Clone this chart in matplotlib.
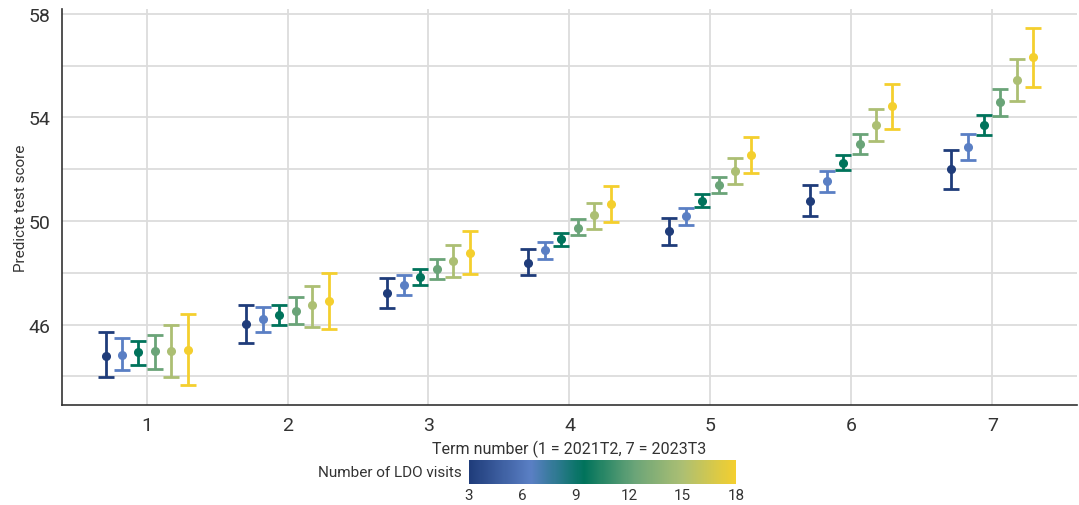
import matplotlib
matplotlib.use("Agg")
import matplotlib.pyplot as plt
import numpy as np
from matplotlib.colors import LinearSegmentedColormap, Normalize
from matplotlib import font_manager

names = {f.name for f in font_manager.fontManager.ttflist}
fam = [f for f in ["Liberation Sans Narrow", "Roboto", "DejaVu Sans"] if f in names]
plt.rcParams['font.family'] = fam

terms = [1, 2, 3, 4, 5, 6, 7]
visits = [3, 6, 9, 12, 15, 18]
colors = ["#1f3c7a", "#5a7fc4", "#00735b", "#6aa478", "#acbf73", "#f4cf2e"]

# estimates per visit level (rows) by term (cols)
est = [
    [44.80, 46.03, 47.23, 48.39, 49.60, 50.78, 52.01],
    [44.84, 46.21, 47.54, 48.87, 50.19, 51.53, 52.87],
    [44.94, 46.36, 47.84, 49.32, 50.78, 52.24, 53.72],
    [44.96, 46.54, 48.14, 49.74, 51.39, 52.96, 54.59],
    [44.99, 46.76, 48.47, 50.22, 51.94, 53.70, 55.45],
    [45.02, 46.89, 48.78, 50.67, 52.56, 54.44, 56.32],
]
upper = [
    [45.73, 46.76, 47.80, 48.93, 50.12, 51.40, 52.75],
    [45.49, 46.68, 47.92, 49.20, 50.50, 51.93, 53.37],
    [45.38, 46.76, 48.15, 49.55, 51.05, 52.55, 54.09],
    [45.60, 47.07, 48.53, 50.09, 51.71, 53.37, 55.09],
    [46.00, 47.49, 49.09, 50.71, 52.43, 54.33, 56.26],
    [46.39, 48.00, 49.61, 51.36, 53.25, 55.30, 57.46],
]
lower = [
    [43.97, 45.27, 46.62, 47.93, 49.09, 50.21, 51.25],
    [44.23, 45.72, 47.15, 48.53, 49.85, 51.13, 52.37],
    [44.42, 46.00, 47.53, 49.04, 50.54, 51.97, 53.33],
    [44.30, 46.03, 47.76, 49.46, 51.08, 52.60, 54.05],
    [43.99, 45.92, 47.85, 49.69, 51.43, 53.09, 54.64],
    [43.65, 45.81, 47.96, 49.96, 51.86, 53.56, 55.18],
]

fig = plt.figure(figsize=(10.79, 5.06), dpi=100)
ax = fig.add_axes([0.0575, 0.198, 0.9405, 0.782])

dodge = 0.7
n = len(visits)
for i, v in enumerate(visits):
    x = np.array(terms) + (i - (n - 1) / 2) * dodge / n
    e = np.array(est[i]); u = np.array(upper[i]); l = np.array(lower[i])
    ax.errorbar(x, e, yerr=[e - l, u - e], fmt='o', color=colors[i],
                ms=5.5, elinewidth=2.0, capsize=6, capthick=2.0, zorder=3)

ax.set_xlim(0.4, 7.6)
ax.set_ylim(42.9, 58.18)
ax.set_yticks([46, 50, 54, 58])
ax.set_yticks([44, 48, 52, 56], minor=True)
ax.set_xticks(terms)
ax.grid(True, which='both', color='#dcdcdc', lw=1.3, zorder=0)
ax.set_axisbelow(True)
ax.tick_params(which='both', length=0, labelsize=14, colors='#333333', pad=8)
for s in ['top', 'right']:
    ax.spines[s].set_visible(False)
for s in ['left', 'bottom']:
    ax.spines[s].set_color('#333333')
    ax.spines[s].set_linewidth(1.2)
ax.set_xlabel("Term number (1 = 2021T2, 7 = 2023T3", fontsize=11.5, color='#333333', labelpad=4)
ax.set_ylabel("Predicte test score", fontsize=11, color='#333333', labelpad=1)

cmap = LinearSegmentedColormap.from_list(
    "ldo", list(zip([0.0, 0.23, 0.43, 0.62, 0.8, 1.0], colors)))
cax = fig.add_axes([469 / 1079, 1 - 485 / 506, (736 - 469) / 1079, 24 / 506])
sm = plt.cm.ScalarMappable(norm=Normalize(3, 18), cmap=cmap)
cb = fig.colorbar(sm, cax=cax, orientation='horizontal', ticks=visits)
cb.outline.set_visible(False)
cax.tick_params(length=0, labelsize=11, colors='#333333', pad=3)
fig.text(462 / 1079, 1 - 473 / 506, "Number of LDO visits", ha='right', va='center',
         fontsize=11, color='#333333')

fig.savefig("out.png", dpi=100)
